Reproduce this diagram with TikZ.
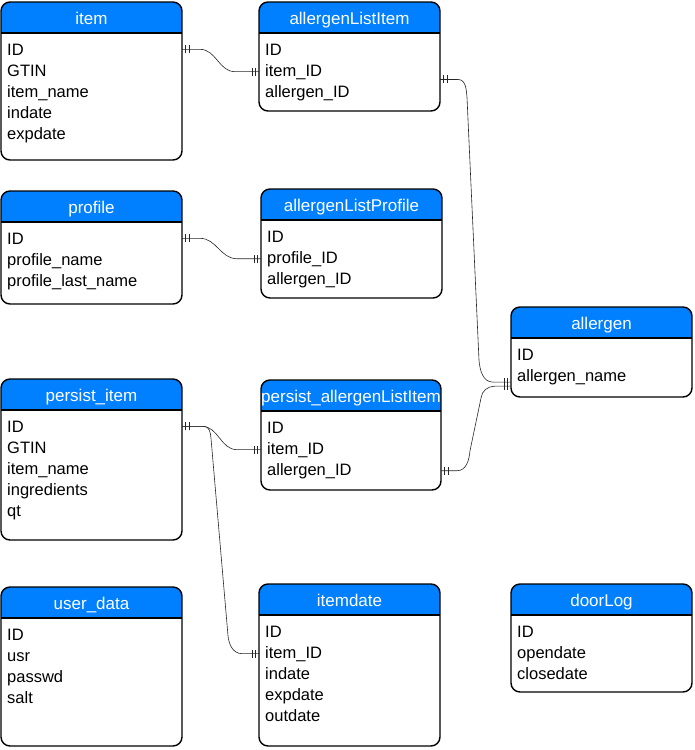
\documentclass[tikz,border=0pt]{standalone}
\usepackage{fontspec}
\setmainfont{Liberation Sans}
\usepackage{tikz}
\usetikzlibrary{calc,decorations.markings}

\definecolor{hdrblue}{RGB}{0,128,255}

% one table: name, x, y (top left), width, height, title, fields
\newcommand{\dbtable}[7]{%
  \begin{scope}
    \clip[rounded corners=9pt] (#2,#3) rectangle ++(#4,#5);
    \fill[hdr] (#2,#3) rectangle ++(#4,31);
  \end{scope}
  \draw[line width=1.4pt] (#2,#3+31) -- ++(#4,0);
  \node[tbl, minimum width=#4pt, minimum height=#5pt, anchor=north west] (#1) at (#2,#3) {};
  \node[ttl] (#1-t) at (#2+#4/2,#3+22) {#6};
  \foreach \f [count=\i] in {#7}
    \node[fld] (#1-\i) at (#2+6,#3+32+21*\i) {\f};
}

\begin{document}
\begin{tikzpicture}[x=1pt, y=-1pt,
    tbl/.style={draw, line width=1.4pt, rounded corners=9pt, inner sep=0, outer sep=0},
    hdr/.style={fill=hdrblue},
    ttl/.style={text=white, font=\fontsize{17}{20}\selectfont, anchor=base, inner sep=0},
    fld/.style={font=\fontsize{16.5}{19}\selectfont, anchor=base west, inner sep=0},
    tick/.style={line width=0.6pt, black!85},
    rel/.style={line width=0.6pt, black!85, postaction={decorate},
      decoration={markings,
        mark=at position 3.5pt with {\draw[tick] (0,-4pt) -- (0,4pt);},
        mark=at position 7pt with {\draw[tick] (0,-4pt) -- (0,4pt);},
        mark=at position -3.5pt with {\draw[tick] (0,-4pt) -- (0,4pt);},
        mark=at position -7pt with {\draw[tick] (0,-4pt) -- (0,4pt);}}}]
    \useasboundingbox (0,0) rectangle (694,750);

    \dbtable{item}{1}{2}{181}{158}{item}{ID, GTIN, item\_name, indate, expdate}
    \dbtable{allergenListItem}{259}{2}{181}{109}{allergenListItem}{ID, item\_ID, allergen\_ID}
    \dbtable{profile}{1}{191}{181}{113}{profile}{ID, profile\_name, profile\_last\_name}
    \dbtable{allergenListProfile}{261}{189}{181}{109}{allergenListProfile}{ID, profile\_ID, allergen\_ID}
    \dbtable{allergen}{511}{307}{181}{90}{allergen}{ID, allergen\_name}
    \dbtable{persistItem}{1}{379}{181}{161}{persist\_item}{ID, GTIN, item\_name, ingredients, qt}
    \dbtable{persistAllergenListItem}{261}{380}{180}{110}{persist\_allergenListItem}{ID, item\_ID, allergen\_ID}
    \dbtable{userData}{1}{587}{181}{159}{user\_data}{ID, usr, passwd, salt}
    \dbtable{itemdate}{259}{584}{181}{162}{itemdate}{ID, item\_ID, indate, expdate, outdate}
    \dbtable{doorLog}{511}{584}{181}{108}{doorLog}{ID, opendate, closedate}

    % relations
    \coordinate (s1) at (item.east |- item-1);
    \coordinate (e1) at (allergenListItem.west |- allergenListItem-2);
    \coordinate (s2) at (allergenListItem.east |- allergenListItem-2.south);
    \coordinate (e2) at ($(allergen.west |- allergen-2.south)+(0,-2.5)$);
    \coordinate (s3) at (profile.east |- profile-1);
    \coordinate (e3) at (allergenListProfile.west |- allergenListProfile-2);
    \coordinate (s4) at (persistItem.east |- persistItem-1);
    \coordinate (e4) at (persistAllergenListItem.west |- persistAllergenListItem-2);
    \coordinate (e5) at (itemdate.west |- itemdate-2);
    \coordinate (s6) at (persistAllergenListItem.east |- persistAllergenListItem-3);
    \coordinate (e6) at ($(allergen.west |- allergen-2.south)+(0,1.5)$);

    \draw[rel] (s1) -- ++(18,0) to[out=0,in=180] ($(e1)+(-24,0)$) -- (e1);
    \draw[rel] (s2) -- ++(18,0) to[out=0,in=95] ++(9,18) -- ($(e2)+(-32,-22)$)
        to[out=-85,in=180] ($(e2)+(-18,0)$) -- (e2);
    \draw[rel] (s3) -- ++(18,0) to[out=0,in=180] ($(e3)+(-24,0)$) -- (e3);
    \draw[rel] (s4) -- ++(20,0) to[out=0,in=180] ($(e4)+(-24,0)$) -- (e4);
    \draw[rel] (s4) -- ++(22,0) to[out=0,in=95] ++(7,12) -- ($(e5)+(-31,-18)$)
        to[out=-85,in=180] ($(e5)+(-17,0)$) -- (e5);
    \draw[rel] (s6) -- ++(16,0) to[out=0,in=-95] ++(13,-20) -- ($(e6)+(-30,12)$)
        to[out=85,in=180] ($(e6)+(-16,0)$) -- (e6);
\end{tikzpicture}
\end{document}
